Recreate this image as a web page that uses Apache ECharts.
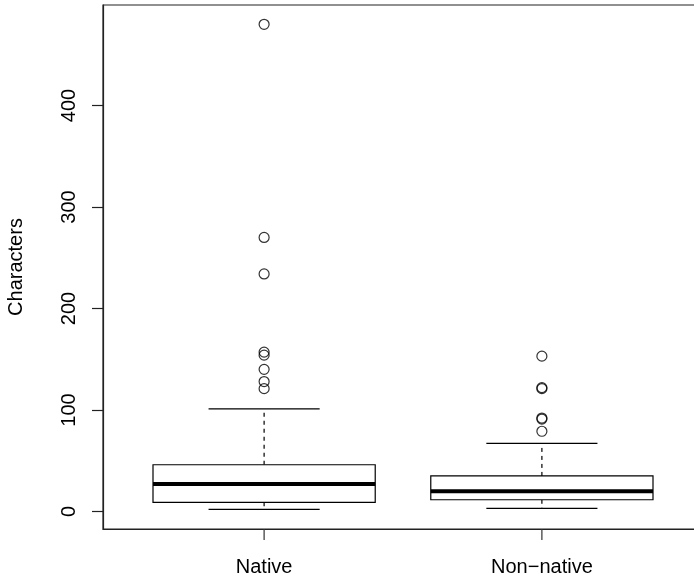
<!DOCTYPE html>
<html>
<head>
<meta charset="utf-8">
<script src="https://cdn.jsdelivr.net/npm/echarts@6/dist/echarts.min.js"></script>
<style>html,body{margin:0;padding:0;background:#fff;}#c{width:694px;height:580px;}</style>
</head>
<body>
<div id="c"></div>
<script>
var categories = ['Native', 'Non\u2212native'];
var whiskerLow = [2, 3];
var quartile1 = [9, 11.5];
var medians = [27, 20];
var quartile3 = [46, 35];
var whiskerHigh = [101, 67];
var outliersNative = [480, 270, 234, 157, 154, 140, 128, 121];
var outliersNonNative = [153, 122, 121, 92, 91, 79];
var yTicks = [0, 100, 200, 300, 400];
var xTicks = [1, 2];

var X_MIN = 0.42, X_MAX = 2.58, Y_MIN = -17.3, Y_MAX = 499;

var boxData = categories.map(function (c, i) {
  return [i + 1, whiskerLow[i], quartile1[i], medians[i], quartile3[i], whiskerHigh[i]];
});
var outlierData = [];
outliersNative.forEach(function (v) { outlierData.push([1, v]); });
outliersNonNative.forEach(function (v) { outlierData.push([2, v]); });
var xTickData = xTicks.map(function (v) { return [v, Y_MIN]; });

var FONT = 'Liberation Sans';
var TICK = 11;
var chart = echarts.init(document.getElementById('c'));
chart.setOption({
  animation: false,
  backgroundColor: '#fff',
  grid: { left: 103, top: 5, right: -9, bottom: 51, outerBoundsMode: 'none', containLabel: false, show: true, borderColor: '#222', borderWidth: 1.2, backgroundColor: 'transparent' },
  xAxis: {
    type: 'value', min: X_MIN, max: X_MAX,
    splitLine: { show: false },
    axisLine: { show: true, onZero: false, lineStyle: { color: '#222', width: 1.2 } },
    axisTick: { show: false },
    axisLabel: {
      customValues: xTicks, margin: 28, fontFamily: FONT, fontSize: 20, color: '#000',
      formatter: function (v) { return categories[Math.round(v) - 1] || ''; }
    }
  },
  yAxis: {
    type: 'value', min: Y_MIN, max: Y_MAX,
    name: 'Characters', nameLocation: 'middle', nameGap: 77, nameRotate: 90,
    nameTextStyle: { fontFamily: FONT, fontSize: 20, color: '#000' },
    splitLine: { show: false },
    axisLine: { show: true, onZero: false, lineStyle: { color: '#222', width: 1.2 } },
    axisTick: { show: false },
    axisLabel: { customValues: yTicks, rotate: 90, margin: 24, fontFamily: FONT, fontSize: 20, color: '#000' }
  },
  series: [
    {
      type: 'custom',
      clip: false,
      z: 10,
      data: xTickData,
      renderItem: function (params, api) {
        var p = api.coord([api.value(0), api.value(1)]);
        return { type: 'line', shape: { x1: p[0], y1: p[1], x2: p[0], y2: p[1] + TICK }, style: { stroke: '#333', lineWidth: 1.2 } };
      }
    },
    {
      type: 'custom',
      data: boxData,
      encode: { x: 0, y: [1, 2, 3, 4, 5] },
      renderItem: function (params, api) {
        var x = api.value(0);
        var lo = api.coord([x, api.value(1)]);
        var q1 = api.coord([x, api.value(2)]);
        var md = api.coord([x, api.value(3)]);
        var q3 = api.coord([x, api.value(4)]);
        var hi = api.coord([x, api.value(5)]);
        var half = api.size([0.4, 0])[0];
        var staple = half / 2;
        var cx = lo[0];
        var ls = { stroke: '#000', lineWidth: 1.2, fill: null };
        return {
          type: 'group',
          children: [
            { type: 'line', shape: { x1: cx, y1: q3[1], x2: cx, y2: hi[1] }, style: { stroke: '#000', lineWidth: 1.2, lineDash: [4, 4] } },
            { type: 'line', shape: { x1: cx, y1: q1[1], x2: cx, y2: lo[1] }, style: { stroke: '#000', lineWidth: 1.2, lineDash: [4, 4] } },
            { type: 'line', shape: { x1: cx - staple, y1: hi[1], x2: cx + staple, y2: hi[1] }, style: ls },
            { type: 'line', shape: { x1: cx - staple, y1: lo[1], x2: cx + staple, y2: lo[1] }, style: ls },
            { type: 'rect', shape: { x: cx - half, y: q3[1], width: half * 2, height: q1[1] - q3[1] }, style: { stroke: '#000', lineWidth: 1.2, fill: '#fff' } },
            { type: 'line', shape: { x1: cx - half, y1: md[1], x2: cx + half, y2: md[1] }, style: { stroke: '#000', lineWidth: 4 } }
          ]
        };
      }
    },
    {
      type: 'scatter',
      data: outlierData,
      symbol: 'circle',
      symbolSize: 10,
      itemStyle: { color: 'rgba(0,0,0,0)', borderColor: '#000', borderWidth: 1.2 }
    }
  ]
});

// y-axis tick marks placed through the chart's own y scale
var tickGraphics = yTicks.map(function (v) {
  var p = chart.convertToPixel({ gridIndex: 0 }, [X_MIN, v]);
  var y = Math.round(p[1]) + 0.5;
  return {
    type: 'line', z: 100,
    shape: { x1: p[0] - TICK, y1: y, x2: p[0], y2: y },
    style: { stroke: '#222', lineWidth: 1.2 }
  };
});
chart.setOption({ graphic: { elements: tickGraphics } });
</script>
</body>
</html>
